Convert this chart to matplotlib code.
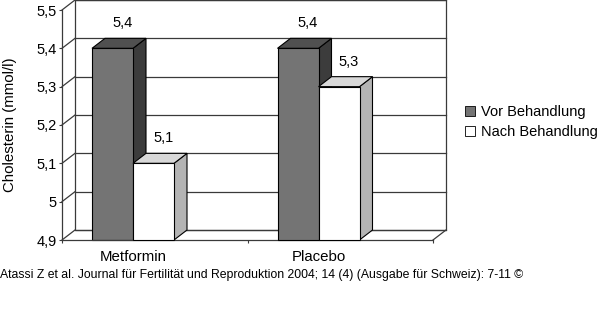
import numpy as np
import matplotlib.pyplot as plt
from matplotlib.patches import Polygon, Rectangle, Patch

plt.rcParams['font.family'] = ['Liberation Sans', 'DejaVu Sans']

categories = ['Metformin', 'Placebo']
series = ['Vor Behandlung', 'Nach Behandlung']
vor = [5.4, 5.4]
nach = [5.1, 5.3]
value_labels = [['5,4', '5,4'], ['5,1', '5,3']]
yticks = [4.9, 5.0, 5.1, 5.2, 5.3, 5.4, 5.5]
ytick_labels = ['4,9', '5', '5,1', '5,2', '5,3', '5,4', '5,5']
source = 'Atassi Z et al. Journal für Fertilität und Reproduktion 2004; 14 (4) (Ausgabe für Schweiz): 7-11 ©'

# colours: front, side, top
styles = [('#747474', '#3c3c3c', '#505050'),
          ('#ffffff', '#b4b4b4', '#d8d8d8')]
line_c = '#3a3a3a'

W, H = 600, 323
fig = plt.figure(figsize=(W / 100, H / 100), dpi=100)
ax_l, ax_b, ax_w, ax_h = 62, 83, 371, 230   # front plane in pixels
ax = fig.add_axes([ax_l / W, ax_b / H, ax_w / W, ax_h / H])
n = len(categories)
ymin, ymax = yticks[0], yticks[-1]
ax.set_xlim(0, n)
ax.set_ylim(ymin, ymax)

# depth of the pseudo 3d box (13 px right, 10 px up) in data units
dx = 13 / ax_w * n
dy = 10 / ax_h * (ymax - ymin)

# back wall + grid
ax.add_patch(Polygon([(dx, ymin + dy), (n + dx, ymin + dy), (n + dx, ymax + dy), (dx, ymax + dy)],
                     closed=True, facecolor='white', edgecolor=line_c, lw=0.9, clip_on=False, zorder=1))
for v in yticks:
    ax.plot([dx, n + dx], [v + dy, v + dy], color=line_c, lw=0.9, clip_on=False, zorder=1)
    ax.plot([0, dx], [v, v + dy], color=line_c, lw=0.9, clip_on=False, zorder=1)
# floor right edge
ax.plot([n, n + dx], [ymin, ymin + dy], color=line_c, lw=0.9, clip_on=False, zorder=1)

# bars
off = 30 / ax_w * n
bw = 41 / ax_w * n
z = 2
for i, cat in enumerate(categories):
    for j, vals in enumerate([vor, nach]):
        v = vals[i]
        x0 = i + off + j * bw
        front, side, top = styles[j]
        ax.add_patch(Polygon([(x0 + bw, ymin), (x0 + bw + dx, ymin + dy), (x0 + bw + dx, v + dy), (x0 + bw, v)],
                             facecolor=side, edgecolor='black', lw=0.8, clip_on=False, zorder=z))
        ax.add_patch(Polygon([(x0, v), (x0 + bw, v), (x0 + bw + dx, v + dy), (x0 + dx, v + dy)],
                             facecolor=top, edgecolor='black', lw=0.8, clip_on=False, zorder=z))
        ax.add_patch(Rectangle((x0, ymin), bw, v - ymin, facecolor=front, edgecolor='black',
                               lw=0.8, clip_on=False, zorder=z))
        z += 1
        ax.annotate(value_labels[j][i], (x0 + bw / 2, v), xytext=(7, 18), textcoords='offset points',
                    ha='center', va='center', fontsize=10.5)
    ax.annotate(cat, (i + off + bw, ymin), xytext=(0, -12.5), textcoords='offset points',
                ha='center', va='center', fontsize=10.8)

ax.set_yticks(yticks)
ax.set_yticklabels(ytick_labels)
ax.set_xticks(range(n + 1))
ax.set_xticklabels([])
ax.tick_params(axis='both', length=2.2, width=0.8, color=line_c, pad=1.5, labelsize=10.5)
for s in ['top', 'right']:
    ax.spines[s].set_visible(False)
for s in ['left', 'bottom']:
    ax.spines[s].set_color(line_c)
    ax.spines[s].set_linewidth(0.9)
ax.patch.set_visible(False)

fig.text(10 / W, 1 - 125 / H, 'Cholesterin (mmol/l)', rotation=90, ha='center', va='center', fontsize=10.8)

handles = [Patch(facecolor=styles[k][0], edgecolor='black', lw=0.6) for k in range(2)]
fig.legend(handles, series, loc='center left', bbox_to_anchor=(465 / W, 1 - 122 / H), frameon=False,
           handlelength=0.7, handleheight=0.7, handletextpad=0.4, labelspacing=0.4, fontsize=10.5,
           borderpad=0, borderaxespad=0)

fig.text(0, 1 - 275 / H, source, ha='left', va='center', fontsize=8.8)

fig.savefig('out.png', dpi=100)
